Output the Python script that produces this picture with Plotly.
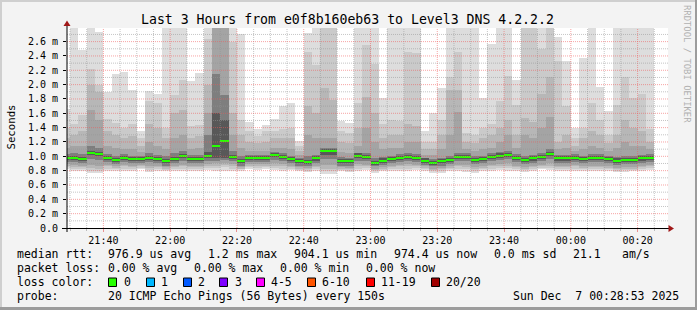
import pandas as pd
import plotly.graph_objects as go

# ---------------- data ----------------
times = pd.date_range("2025-12-06 21:28:45", periods=71, freq="150s")

median = [0.98,0.98,0.96,1.05,1.03,0.98,0.95,0.98,0.96,0.96,
          0.98,0.96,0.93,0.96,1.00,0.96,0.96,1.01,1.15,1.22,
          0.99,0.93,0.98,0.98,0.98,1.02,0.99,0.96,0.93,0.92,
          0.97,1.07,1.07,0.93,0.93,1.01,0.99,0.91,0.94,0.96,
          0.98,0.99,0.98,0.94,0.91,0.93,0.95,0.99,0.99,0.95,
          0.96,0.99,1.01,1.02,0.98,0.95,0.97,0.99,1.03,0.97,
          0.97,0.98,0.96,0.98,0.98,0.96,0.94,0.95,0.95,0.97,0.98]

# smoke bands, outermost (lightest) to innermost (darkest)
hi1 = [1.66,3.0,2.48,3.0,2.74,1.90,2.15,2.18,1.93,1.35,
       1.91,1.87,3.0,3.0,3.0,2.05,2.16,3.0,3.0,3.0,
       3.0,2.71,1.48,1.38,1.43,1.52,1.70,1.74,1.22,2.72,
       3.0,3.0,3.0,1.49,1.47,3.0,3.0,3.0,1.81,3.0,
       3.0,3.0,3.0,1.35,1.61,1.95,3.0,3.0,3.0,3.0,
       1.81,2.56,3.0,3.0,2.06,3.0,3.0,3.0,3.0,2.67,
       2.33,1.40,2.37,3.0,1.97,1.63,3.0,3.0,3.0,3.0,3.0]
lo1 = [0.82,0.80,0.80,0.77,0.77,0.80,0.79,0.80,0.79,0.82,
       0.78,0.79,0.79,0.79,0.80,0.80,0.79,0.81,0.80,0.79,
       0.80,0.80,0.82,0.81,0.82,0.81,0.80,0.81,0.79,0.78,
       0.79,0.75,0.75,0.79,0.78,0.80,0.81,0.77,0.79,0.79,
       0.80,0.80,0.81,0.80,0.77,0.77,0.79,0.80,0.78,0.77,
       0.80,0.80,0.81,0.80,0.80,0.78,0.80,0.82,0.81,0.80,
       0.79,0.80,0.80,0.80,0.80,0.79,0.78,0.78,0.79,0.80,0.81]
hi2 = [1.40,1.45,1.57,2.22,2.00,1.52,1.47,1.40,1.45,1.25,
       1.77,1.75,1.40,1.85,2.07,1.42,1.44,2.63,3.0,3.0,
       2.60,1.50,1.35,1.28,1.35,1.36,1.38,1.40,1.15,2.46,
       2.27,3.0,3.0,1.35,1.32,1.75,2.55,2.29,1.45,1.50,
       1.49,2.45,2.44,1.20,1.20,1.50,2.10,2.46,1.32,1.30,
       1.40,1.45,1.77,2.12,1.71,3.0,3.0,2.50,3.0,2.33,
       1.70,1.25,1.40,1.75,1.50,1.30,1.71,2.10,1.81,1.87,1.38]
lo2 = [0.85,0.83,0.83,0.80,0.80,0.83,0.82,0.83,0.82,0.84,
       0.81,0.82,0.81,0.82,0.83,0.83,0.82,0.84,0.84,0.85,
       0.83,0.82,0.85,0.84,0.85,0.84,0.83,0.83,0.81,0.80,
       0.82,0.79,0.79,0.81,0.80,0.83,0.84,0.79,0.81,0.82,
       0.83,0.83,0.84,0.82,0.79,0.80,0.82,0.83,0.82,0.80,
       0.82,0.83,0.84,0.84,0.83,0.81,0.83,0.84,0.84,0.83,
       0.82,0.83,0.82,0.83,0.83,0.82,0.80,0.81,0.81,0.83,0.84]
hi3 = [1.25,1.30,1.35,2.00,1.90,1.35,1.30,1.25,1.28,1.15,
       1.45,1.40,1.25,1.60,1.65,1.25,1.28,2.00,3.0,3.0,
       1.60,1.30,1.20,1.18,1.20,1.25,1.25,1.25,1.08,1.70,
       1.60,1.95,1.78,1.20,1.18,1.40,1.83,1.60,1.25,1.30,
       1.30,1.45,1.42,1.10,1.10,1.30,1.92,1.92,1.20,1.18,
       1.25,1.30,1.40,1.50,1.30,1.54,1.48,1.87,2.10,1.20,
       1.30,1.15,1.25,1.35,1.30,1.18,1.30,1.50,1.40,1.35,1.20]
lo3 = [0.87,0.85,0.85,0.84,0.83,0.86,0.84,0.86,0.85,0.86,
       0.84,0.85,0.83,0.85,0.86,0.85,0.85,0.86,0.87,0.88,
       0.86,0.83,0.87,0.87,0.87,0.87,0.86,0.85,0.83,0.82,
       0.85,0.83,0.83,0.83,0.82,0.86,0.86,0.81,0.83,0.85,
       0.86,0.86,0.86,0.84,0.81,0.82,0.84,0.86,0.85,0.83,
       0.84,0.86,0.87,0.87,0.85,0.83,0.85,0.86,0.87,0.85,
       0.85,0.86,0.84,0.85,0.85,0.84,0.82,0.83,0.83,0.85,0.86]
hi4 = [1.12,1.15,1.15,1.65,1.50,1.15,1.12,1.10,1.10,1.06,
       1.20,1.15,1.10,1.25,1.30,1.10,1.12,1.60,3.0,3.0,
       1.30,1.12,1.08,1.08,1.08,1.12,1.12,1.10,1.02,1.30,
       1.25,1.25,1.25,1.06,1.05,1.15,1.40,1.20,1.10,1.12,
       1.12,1.20,1.20,1.02,1.02,1.10,1.30,1.62,1.10,1.08,
       1.10,1.12,1.20,1.30,1.12,1.30,1.25,1.40,1.55,1.10,
       1.12,1.08,1.10,1.15,1.12,1.08,1.12,1.20,1.15,1.15,1.10]
lo4 = [0.89,0.88,0.87,0.88,0.87,0.88,0.86,0.88,0.87,0.88,
       0.87,0.87,0.85,0.87,0.88,0.87,0.87,0.89,0.90,0.91,
       0.89,0.85,0.89,0.89,0.89,0.90,0.89,0.87,0.85,0.84,
       0.87,0.88,0.88,0.85,0.84,0.89,0.88,0.83,0.85,0.87,
       0.88,0.89,0.88,0.86,0.83,0.84,0.86,0.88,0.88,0.85,
       0.86,0.88,0.89,0.90,0.87,0.85,0.87,0.88,0.90,0.87,
       0.87,0.88,0.86,0.87,0.87,0.86,0.84,0.85,0.85,0.87,0.88]
hi5 = [1.03,1.04,1.03,1.15,1.12,1.03,1.01,1.03,1.01,1.00,
       1.05,1.02,1.00,1.04,1.08,1.02,1.02,1.30,2.15,1.85,
       1.08,1.00,1.02,1.02,1.02,1.06,1.04,1.01,0.98,1.00,
       1.02,1.12,1.12,0.99,0.98,1.05,1.05,0.98,0.99,1.01,
       1.03,1.04,1.03,0.98,0.96,0.98,1.00,1.05,1.04,1.00,
       1.01,1.04,1.06,1.07,1.03,1.00,1.02,1.05,1.10,1.02,
       1.02,1.03,1.01,1.03,1.03,1.01,0.99,1.00,1.00,1.02,1.03]
lo5 = [0.92,0.92,0.90,0.96,0.95,0.92,0.89,0.92,0.90,0.90,
       0.92,0.90,0.87,0.90,0.93,0.90,0.90,0.94,0.94,0.95,
       0.93,0.87,0.92,0.92,0.92,0.95,0.93,0.90,0.87,0.87,
       0.91,0.96,0.96,0.87,0.87,0.94,0.93,0.86,0.88,0.90,
       0.92,0.93,0.92,0.88,0.86,0.87,0.89,0.93,0.93,0.89,
       0.90,0.93,0.95,0.96,0.92,0.89,0.91,0.93,0.96,0.91,
       0.91,0.92,0.90,0.92,0.92,0.90,0.88,0.89,0.89,0.91,0.92]
hi6 = [1.01,1.01,0.99,1.08,1.06,1.01,0.98,1.01,0.99,0.99,
       1.01,0.99,0.96,0.99,1.03,0.99,0.99,1.06,1.60,1.50,
       1.02,0.96,1.01,1.01,1.01,1.05,1.02,0.99,0.96,0.95,
       1.00,1.10,1.10,0.96,0.96,1.04,1.02,0.94,0.97,0.99,
       1.01,1.02,1.01,0.97,0.94,0.96,0.98,1.02,1.02,0.98,
       0.99,1.02,1.04,1.05,1.01,0.98,1.00,1.02,1.06,1.00,
       1.00,1.01,0.99,1.01,1.01,0.99,0.97,0.98,0.98,1.00,1.01]
lo6 = [0.95,0.95,0.93,1.02,1.00,0.95,0.92,0.95,0.93,0.93,
       0.95,0.93,0.90,0.93,0.97,0.93,0.93,0.98,0.97,0.98,
       0.96,0.90,0.95,0.95,0.95,0.99,0.96,0.93,0.90,0.89,
       0.94,1.02,1.02,0.90,0.90,0.98,0.96,0.88,0.91,0.93,
       0.95,0.96,0.95,0.91,0.88,0.90,0.92,0.96,0.96,0.92,
       0.93,0.96,0.98,0.99,0.95,0.92,0.94,0.96,1.00,0.94,
       0.94,0.95,0.93,0.95,0.95,0.93,0.91,0.92,0.92,0.94,0.95]

y_ticks = [0.0, 0.2, 0.4, 0.6, 0.8, 1.0, 1.2, 1.4, 1.6, 1.8, 2.0, 2.2, 2.4, 2.6]
y_ticktext = ["0.0"] + [f"{v:.1f} m" for v in y_ticks[1:]]

title_text = "Last 3 Hours from e0f8b160eb63 to Level3 DNS 4.2.2.2"
legend_rows = [
    [("median rtt:", 16), ("976.9 us avg", 107), ("1.2 ms max", 207), ("904.1 us min", 293),
     ("974.4 us now", 393), ("0.0 ms sd", 493), ("21.1", 572), ("am/s", 621)],
    [("packet loss:", 16), ("0.00 % avg", 107), ("0.00 % max", 193), ("0.00 % min", 279),
     ("0.00 % now", 365)],
    [("loss color:", 16)],
    [("probe:", 16), ("20 ICMP Echo Pings (56 Bytes) every 150s", 107)],
]
loss_labels = ["0", "1", "2", "3", "4-5", "6-10", "11-19", "20/20"]
loss_colors = ["#26ff00", "#00b8ff", "#0059ff", "#7e00ff", "#ff00ff", "#ff5500", "#ff0000", "#a10000"]
loss_box_x = [108, 146, 183, 219, 256, 307, 366, 431]
loss_text_x = [123, 160, 197, 234, 270, 321, 380, 445]
timestamp = "Sun Dec  7 00:28:53 2025"

# ---------------- layout geometry ----------------
W, H = 697, 310
L, R, T, B = 67, 668, 28, 228
YMAX = 2.79
X0, X1 = "2025-12-06 21:29:06", "2025-12-07 00:29:06"
MONO = "DejaVu Sans Mono"


def px(x):
    return (x - L) / (R - L)


def py(y):
    return (B - y) / (B - T)


def nb(s):
    return s.replace(" ", "\u00a0")


fig = go.Figure()

his = [hi1, hi2, hi3, hi4, hi5, hi6]
los = [lo1, lo2, lo3, lo4, lo5, lo6]
band_colors = ["#dddddd", "#cacaca", "#b7b7b7", "#a4a4a4", "#7e7e7e", "#585858"]
for hi, lo, col in zip(his, los, band_colors):
    fig.add_trace(go.Bar(x=times, base=lo, y=[h - l for h, l in zip(hi, lo)],
                         width=150000, marker=dict(color=col, line=dict(width=0)),
                         hoverinfo="skip"))

fig.add_trace(go.Bar(x=times, base=[m - 0.014 for m in median], y=[0.028] * len(median),
                     width=150000, marker=dict(color="#26ff00", line=dict(width=0)),
                     hoverinfo="skip"))

shapes = []
# grid lines drawn above the smoke
major_t = pd.date_range("2025-12-06 21:40", "2025-12-07 00:20", freq="20min")
minor_t = [t for t in pd.date_range("2025-12-06 21:30", "2025-12-07 00:25", freq="5min") if t not in set(major_t)]
for t in minor_t:
    shapes.append(dict(type="line", xref="x", yref="paper", x0=t, x1=t, y0=0, y1=1,
                       line=dict(color="rgba(150,150,150,0.55)", width=1, dash="1px,1px"), layer="above"))
for t in major_t:
    shapes.append(dict(type="line", xref="x", yref="paper", x0=t, x1=t, y0=0, y1=1,
                       line=dict(color="rgba(240,90,90,0.55)", width=1, dash="1px,1px"), layer="above"))
for k in range(1, 28):
    v = k / 10
    major = (k % 2 == 0)
    shapes.append(dict(type="line", xref="paper", yref="y", x0=0, x1=1, y0=v, y1=v,
                       line=dict(color="rgba(240,90,90,0.55)" if major else "rgba(150,150,150,0.55)",
                                 width=1, dash="1px,1px"), layer="above"))

# axes
shapes.append(dict(type="line", xref="paper", yref="paper", x0=px(62), x1=px(670), y0=py(228.5), y1=py(228.5),
                   line=dict(color="black", width=1), layer="above"))
shapes.append(dict(type="line", xref="paper", yref="paper", x0=px(67), x1=px(67), y0=py(232), y1=py(24),
                   line=dict(color="black", width=1), layer="above"))
shapes.append(dict(type="path", xref="paper", yref="paper",
                   path=f"M {px(67)},{py(20.5)} L {px(63.5)},{py(26)} L {px(70.5)},{py(26)} Z",
                   fillcolor="#a01818", line=dict(width=0), layer="above"))
shapes.append(dict(type="path", xref="paper", yref="paper",
                   path=f"M {px(674)},{py(228.5)} L {px(668.5)},{py(225)} L {px(668.5)},{py(232)} Z",
                   fillcolor="#a01818", line=dict(width=0), layer="above"))

# frame
shapes.append(dict(type="rect", xref="paper", yref="paper", x0=px(0), x1=px(W), y0=py(0), y1=py(2),
                   fillcolor="#cfcfcf", line=dict(width=0), layer="above"))
shapes.append(dict(type="rect", xref="paper", yref="paper", x0=px(0), x1=px(2), y0=py(0), y1=py(H),
                   fillcolor="#cfcfcf", line=dict(width=0), layer="above"))
shapes.append(dict(type="rect", xref="paper", yref="paper", x0=px(W - 2), x1=px(W), y0=py(0), y1=py(H),
                   fillcolor="#9c9c9c", line=dict(width=0), layer="above"))
shapes.append(dict(type="rect", xref="paper", yref="paper", x0=px(0), x1=px(W), y0=py(H - 3), y1=py(H),
                   fillcolor="#9c9c9c", line=dict(width=0), layer="above"))

# loss colour boxes
for bx, col in zip(loss_box_x, loss_colors):
    shapes.append(dict(type="rect", xref="paper", yref="paper", x0=px(bx + 0.5), x1=px(bx + 8.5),
                       y0=py(278), y1=py(286.5), fillcolor=col, line=dict(color="black", width=1),
                       layer="above"))

annotations = []
annotations.append(dict(text=nb(title_text), x=px(347.5), y=py(19), xref="paper", yref="paper",
                        xanchor="center", yanchor="middle", showarrow=False,
                        font=dict(family=MONO, size=13.2, color="black")))
annotations.append(dict(text="Seconds", x=px(11), y=py(127.5), xref="paper", yref="paper",
                        xanchor="center", yanchor="middle", showarrow=False, textangle=-90,
                        font=dict(family=MONO, size=10.7, color="black")))
annotations.append(dict(text=nb("RRDTOOL / TOBI OETIKER"), x=px(687), y=py(64), xref="paper", yref="paper",
                        xanchor="center", yanchor="middle", showarrow=False, textangle=90,
                        font=dict(family=MONO, size=8.9, color="#b0b0b0")))
row_y = [254.3, 268.3, 282.3, 296.0]
for row, yy in zip(legend_rows, row_y):
    for txt, xx in row:
        annotations.append(dict(text=nb(txt), x=px(xx - 1), y=py(yy), xref="paper", yref="paper",
                                xanchor="left", yanchor="middle", showarrow=False,
                                font=dict(family=MONO, size=11.5, color="black")))
for txt, xx in zip(loss_labels, loss_text_x):
    annotations.append(dict(text=nb(txt), x=px(xx - 1), y=py(row_y[2]), xref="paper", yref="paper",
                            xanchor="left", yanchor="middle", showarrow=False,
                            font=dict(family=MONO, size=11.5, color="black")))
annotations.append(dict(text=nb(timestamp), x=px(681), y=py(row_y[3]), xref="paper", yref="paper",
                        xanchor="right", yanchor="middle", showarrow=False,
                        font=dict(family=MONO, size=11.5, color="black")))

fig.update_layout(
    width=W, height=H, margin=dict(l=L, r=W - R, t=T, b=H - B),
    paper_bgcolor="#f3f3f3", plot_bgcolor="white",
    barmode="overlay", bargap=0, showlegend=False,
    shapes=shapes, annotations=annotations,
    xaxis=dict(type="date", range=[X0, X1], tick0="2025-12-06 21:40", dtick=20 * 60 * 1000,
               tickformat="%H:%M", showgrid=False, zeroline=False, showline=False,
               ticks="outside", ticklen=3, tickcolor="#e89090",
               tickfont=dict(family=MONO, size=10, color="black"),
               minor=dict(dtick=5 * 60 * 1000, ticks="outside", ticklen=2, tickcolor="#bbbbbb"),
               fixedrange=True),
    yaxis=dict(range=[0, YMAX], tickvals=y_ticks, ticktext=y_ticktext, showgrid=False,
               zeroline=False, showline=False, ticks="outside", ticklen=3, tickcolor="black",
               tickfont=dict(family=MONO, size=10, color="black"), ticklabelstandoff=3,
               fixedrange=True),
)

fig.write_html("out.html")
